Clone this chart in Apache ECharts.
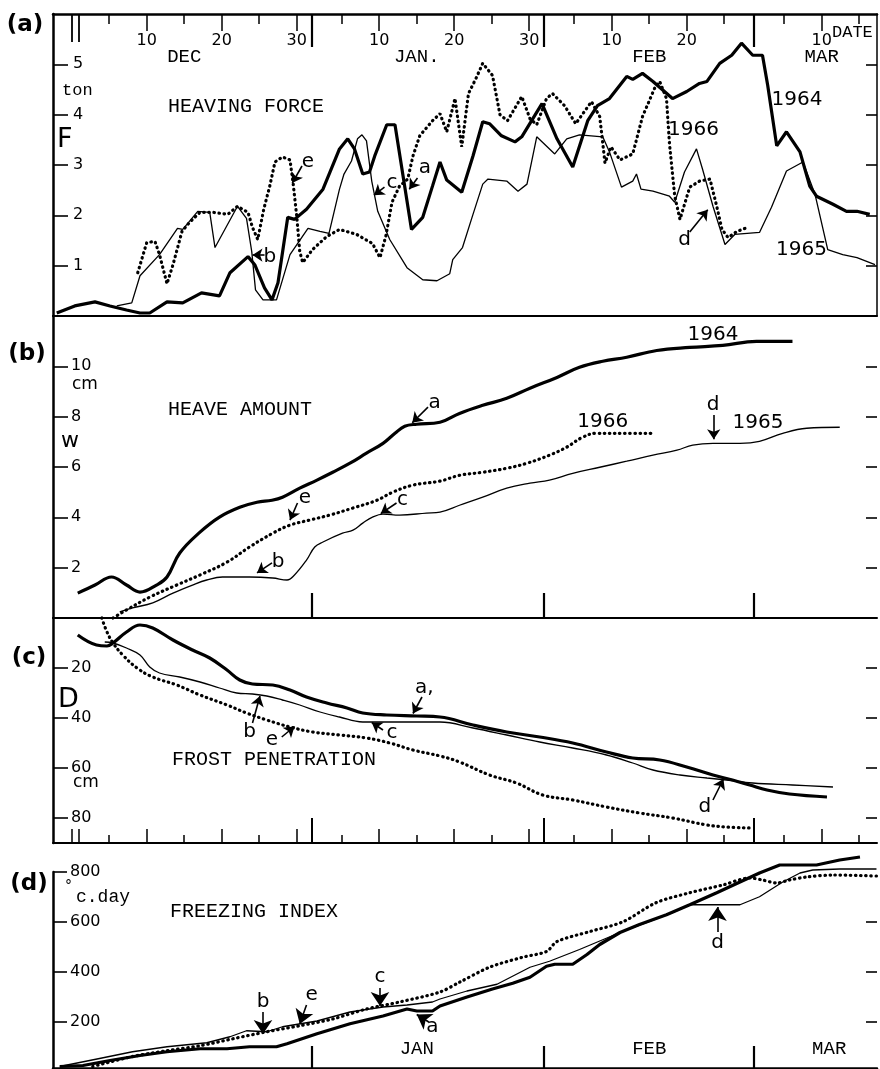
<!DOCTYPE html>
<html><head><meta charset="utf-8">
<script src="https://cdn.jsdelivr.net/npm/echarts@6/dist/echarts.min.js"></script>
<style>html,body{margin:0;padding:0;background:#fff}#c{width:880px;height:1069px}</style>
</head><body><div id="c"></div>
<script>
// ===== DATA (x = days from 1 Jan; Dec 1 = -31, Feb 1 = 31, Mar 1 = 59) =====
// (a) heaving force, ton
const force1964 = [[-34.0,0.06],[-31.6,0.2],[-28.9,0.28],[-26.9,0.2],[-24.7,0.12],[-22.9,0.06],[-21.6,0.06],[-19.3,0.28],[-17.2,0.26],[-14.7,0.46],[-12.3,0.4],[-10.9,0.86],[-8.5,1.18],[-7.6,1.02],[-6.3,0.56],[-5.3,0.32],[-4.5,0.66],[-3.2,1.96],[-2.3,1.92],[-0.7,2.12],[1.5,2.52],[3.7,3.32],[4.8,3.52],[5.7,3.32],[6.8,2.82],[7.7,2.86],[8.4,3.18],[10.0,3.8],[11.1,3.8],[13.3,1.72],[14.8,1.96],[16.1,2.58],[17.1,3.06],[18.0,2.7],[20.0,2.46],[21.5,3.18],[22.8,3.86],[23.7,3.82],[25.3,3.58],[27.1,3.46],[28.0,3.56],[30.7,4.22],[32.7,3.52],[34.8,2.96],[36.8,3.88],[38.1,4.18],[39.7,4.32],[42.0,4.76],[42.8,4.7],[44.1,4.82],[45.5,4.66],[48.1,4.32],[50.0,4.46],[51.7,4.62],[52.7,4.66],[54.4,5.02],[56.0,5.18],[57.3,5.42],[58.8,5.18],[60.1,5.18],[60.8,4.58],[62.0,3.38],[63.3,3.66],[65.1,3.26],[66.4,2.58],[67.3,2.38],[69.5,2.22],[71.3,2.08],[72.7,2.08],[74.4,2.02]];
const force1965 = [[-26.0,0.2],[-24.0,0.26],[-22.9,0.8],[-20.3,1.22],[-17.9,1.74],[-17.2,1.72],[-15.2,2.08],[-13.6,2.06],[-12.9,1.36],[-9.9,2.18],[-8.7,1.94],[-8.0,1.28],[-7.5,0.52],[-6.5,0.32],[-4.7,0.32],[-2.9,1.22],[-0.5,1.74],[1.1,1.68],[2.3,1.64],[3.7,2.52],[4.3,2.82],[5.3,3.08],[6.1,3.52],[6.7,3.6],[7.3,3.48],[8.0,2.68],[8.8,2.08],[10.4,1.52],[12.7,0.96],[14.8,0.72],[16.7,0.7],[18.4,0.84],[18.8,1.12],[20.1,1.36],[21.5,2.02],[22.8,2.62],[23.5,2.72],[26.0,2.68],[27.5,2.48],[28.7,2.62],[30.0,3.56],[32.4,3.22],[34.0,3.52],[35.7,3.6],[38.8,3.56],[39.7,3.26],[41.3,2.56],[42.8,2.68],[43.3,2.82],[43.9,2.52],[45.5,2.48],[47.7,2.38],[48.4,2.26],[49.7,2.86],[51.3,3.32],[52.1,2.92],[53.5,2.18],[55.1,1.42],[56.4,1.62],[59.7,1.66],[61.3,2.16],[63.3,2.88],[65.5,3.06],[67.1,2.42],[68.8,1.32],[70.8,1.22],[72.7,1.16],[75.1,1.02]];
const force1966 = [[-23.2,0.86],[-22.0,1.46],[-20.9,1.48],[-20.3,1.22],[-19.3,0.64],[-18.5,1.02],[-17.3,1.68],[-16.3,1.86],[-14.9,2.06],[-13.2,2.06],[-11.2,2.02],[-9.9,2.18],[-8.5,2.06],[-7.9,1.76],[-7.2,1.52],[-6.4,2.12],[-5.6,2.58],[-4.9,3.06],[-3.9,3.16],[-2.9,3.1],[-2.5,2.66],[-2.0,1.98],[-1.6,1.28],[-1.2,1.06],[0.1,1.32],[2.0,1.58],[3.7,1.72],[6.0,1.62],[8.1,1.44],[9.1,1.16],[9.9,1.6],[10.7,2.26],[11.7,2.58],[12.8,2.72],[13.5,3.18],[14.4,3.58],[16.1,3.88],[17.1,4.02],[18.0,3.66],[19.1,4.32],[20.0,3.36],[20.9,4.42],[21.9,4.72],[22.8,5.02],[24.1,4.78],[25.1,4.0],[26.1,3.88],[28.0,4.36],[29.1,3.92],[30.0,3.8],[31.3,4.32],[32.1,4.42],[33.7,4.18],[35.2,3.82],[37.3,4.26],[38.4,3.96],[39.1,3.04],[39.9,3.36],[41.1,3.1],[42.8,3.22],[44.1,3.96],[45.7,4.52],[46.4,4.66],[47.3,4.32],[47.7,3.42],[48.4,2.38],[49.1,1.92],[50.4,2.56],[51.7,2.68],[53.1,2.72],[54.0,2.18],[54.7,1.72],[55.5,1.56],[56.7,1.68],[58.1,1.76]];
// (b) heave amount, cm
const heave1964 = [[-31.2,0.99],[-28.9,1.31],[-26.7,1.63],[-24.7,1.31],[-22.9,1.03],[-20.7,1.31],[-19.3,1.63],[-17.6,2.58],[-14.9,3.41],[-12.3,4.01],[-9.6,4.40],[-7.3,4.60],[-5.3,4.68],[-3.9,4.80],[-1.6,5.16],[0.7,5.48],[2.8,5.79],[5.1,6.15],[7.3,6.55],[9.5,6.94],[11.1,7.34],[12.4,7.62],[14.0,7.70],[17.1,7.78],[19.7,8.13],[22.8,8.45],[26.0,8.73],[29.1,9.13],[32.7,9.56],[35.7,9.96],[38.8,10.20],[42.0,10.36],[46.0,10.63],[50.4,10.75],[54.8,10.83],[59.3,10.99],[64.1,10.99]];
const heave1965 = [[-25.6,0.24],[-23.9,0.40],[-21.2,0.60],[-18.5,0.99],[-15.9,1.31],[-14.0,1.51],[-11.9,1.63],[-8.3,1.63],[-5.2,1.59],[-3.3,1.51],[-2.3,1.71],[-0.7,2.30],[0.4,2.82],[1.5,3.02],[4.1,3.37],[5.5,3.49],[6.8,3.77],[8.1,4.01],[9.5,4.13],[11.7,4.09],[15.3,4.17],[17.1,4.21],[19.7,4.48],[22.8,4.80],[26.0,5.16],[29.1,5.36],[31.7,5.48],[34.8,5.75],[38.4,5.99],[42.0,6.23],[45.5,6.47],[48.7,6.67],[50.8,6.87],[53.5,6.94],[57.1,6.94],[59.7,7.02],[62.8,7.34],[66.0,7.54],[70.4,7.58]];
const heave1966 = [[-26.5,0],[-24.7,0.32],[-21.6,0.83],[-18.0,1.31],[-14.9,1.71],[-11.3,2.22],[-8.3,2.82],[-5.2,3.37],[-2.9,3.69],[-0.3,3.89],[2.4,4.09],[5.5,4.37],[8.7,4.68],[10.8,5.00],[13.5,5.28],[17.1,5.44],[19.7,5.67],[22.8,5.79],[26.0,5.95],[28.7,6.15],[31.7,6.47],[34.0,6.79],[36.1,7.18],[38.0,7.34],[41.5,7.34],[45.5,7.34]];
// (c) frost penetration, cm (depth)
const frost1964 = [[-31.2,6.8],[-28.7,10.8],[-27.3,11.2],[-26.5,10.0],[-24.7,5.6],[-22.9,2.8],[-21.2,4.0],[-18.5,8.8],[-15.9,12.8],[-13.6,16.0],[-11.3,20.8],[-9.6,24.8],[-7.9,26.4],[-5.2,26.8],[-2.9,28.8],[-0.7,31.6],[2.0,34.0],[4.7,36.0],[6.8,38.0],[10.0,38.8],[14.0,39.2],[17.1,39.6],[21.5,42.8],[26.0,45.6],[30.4,47.6],[34.8,50.0],[39.3,53.6],[42.8,56.0],[46.4,56.8],[50.0,59.6],[53.5,62.8],[56.1,64.8],[58.4,66.8],[60.7,68.8],[63.7,70.4],[68.7,71.6]];
const frost1965 = [[-27.6,9.6],[-26.5,10.0],[-24.7,12.0],[-22.9,14.8],[-21.6,19.6],[-20.3,22.0],[-17.6,23.6],[-14.9,25.6],[-12.3,28.0],[-10.0,30.0],[-7.9,30.4],[-6.0,31.2],[-3.9,32.8],[-1.6,34.8],[1.1,37.6],[3.7,39.6],[6.8,41.6],[11.7,41.6],[17.1,41.6],[21.5,44.0],[26.0,46.8],[30.4,49.6],[34.8,52.0],[39.3,54.8],[42.8,58.0],[45.5,60.8],[49.1,62.8],[52.7,64.0],[55.3,64.8],[58.8,66.0],[64.1,66.8],[69.5,67.6]];
const frost1966 = [[-28.0,0],[-27.3,5.6],[-26.5,10.0],[-25.2,14.8],[-23.3,20.0],[-21.2,23.6],[-18.0,26.8],[-14.9,30.8],[-11.3,34.8],[-8.7,38.0],[-6.0,40.8],[-2.9,43.6],[0.1,45.6],[3.7,46.8],[7.3,48.0],[10.4,50.0],[13.5,52.8],[17.1,55.2],[19.7,57.6],[23.7,62.8],[27.3,66.0],[30.8,70.8],[34.8,72.8],[39.3,75.6],[43.7,78.0],[48.1,80.0],[52.7,82.8],[55.3,83.6],[58.7,84.0]];
// (d) freezing index, °C·day
const index1964 = [[-33.6,22],[-30.5,26],[-26.9,46],[-22.9,66],[-19.3,81],[-14.9,93],[-11.3,93],[-8.3,101],[-4.7,101],[-3.3,113],[0.7,153],[5.1,193],[9.5,224],[12.7,252],[14.0,244],[16.1,244],[17.1,264],[20.7,300],[24.1,332],[26.8,355],[29.1,379],[31.3,423],[32.4,431],[34.8,431],[36.7,470],[38.4,510],[41.1,558],[43.7,590],[47.3,629],[50.4,669],[54.0,717],[57.1,760],[59.7,796],[62.4,828],[64.7,828],[67.3,828],[70.4,848],[73.1,860]];
const index1965 = [[-33.6,22],[-28.3,54],[-23.9,81],[-19.3,101],[-14.0,117],[-10.9,141],[-8.7,165],[-6.0,161],[-3.9,181],[0.7,204],[5.1,240],[9.5,260],[12.7,268],[16.1,280],[17.1,292],[20.7,324],[24.7,351],[29.1,419],[31.7,443],[35.7,490],[41.1,558],[44.7,598],[48.1,637],[50.4,669],[53.5,669],[57.1,669],[59.7,701],[62.8,760],[65.1,796],[66.8,808],[70.4,812],[75.3,812]];
const index1966 = [[-29.2,22],[-23.9,62],[-19.3,85],[-14.9,105],[-10.5,133],[-6.0,161],[-1.6,185],[2.8,212],[7.3,252],[11.7,280],[17.1,320],[19.7,359],[23.7,419],[28.1,459],[31.3,482],[32.7,522],[37.1,562],[41.5,601],[45.9,677],[50.4,717],[54.8,748],[58.4,776],[60.1,768],[62.0,756],[63.7,768],[66.0,780],[69.5,788],[75.3,784]];

// ===== TICKS / LABELS =====
const minorDays = [-27,-17,-7,4,14,24,35,45,55,63,73];
const tenDays = [-22,-12,-2,9,19,29,40,50,68];
const tenDayLabels = ['10','20','30','10','20','30','10','20','10'];
const monthStartDays = [0,31,59];
const novDecDays = [-32,-31];
const monthMidTop = [-17,14,45,68];
const monthNamesTop = ['DEC','JAN.','FEB','MAR'];
const monthMidD = [14,45,69];
const monthNamesD = ['JAN','FEB','MAR'];
const forceTicks = [1,2,3,4,5];
const heaveTicks = [2,4,6,8,10];
const depthTicks = [20,40,60,80];
const indexTicks = [200,400,600,800];
const indexTicksRight = [200,400,600];

// ===== ANNOTATIONS ([text, x, y] and arrows [x1,y1,x2,y2]) =====
const notesA = [['e',-0.5,3.06],['b',-5.6,1.17],['c',10.7,2.64],['a',15.1,2.94],['d',49.7,1.51],['1964',64.7,4.29],['1966',50.9,3.70],['1965',65.3,1.31]];
const arrowsA = [[-1.3,2.98,-2.6,2.64],[-6.3,1.21,-7.9,1.21],[9.7,2.56,8.3,2.4],[14.1,2.74,13.0,2.52],[50.4,1.67,52.8,2.11]];
const notesB = [['a',16.4,8.54],['e',-0.9,4.77],['c',12.1,4.69],['b',-4.5,2.22],['1964',53.5,11.24],['1966',38.8,7.79],['d',53.5,8.46],['1965',59.5,7.75]];
const arrowsB = [[15.5,8.38,13.4,7.76],[-1.9,4.57,-2.9,3.89],[11.3,4.57,9.2,4.15],[-5.3,2.19,-7.3,1.79],[53.6,8.07,53.6,7.1]];
const notesC = [['a,',15.0,28],['b',-8.3,45.6],['e',-5.3,48.8],['c',10.7,46],['d',52.4,75.6]];
const arrowsC = [[14.7,31.6,13.5,38.2],[-7.9,42,-6.9,31.2],[-4.0,47.6,-2.3,43.4],[9.5,44.8,8.0,41.8],[53.5,72.8,54.9,64.4]];
const notesD = [['b',-6.5,280],['e',0,308],['c',9.1,380],['a',16.1,180],['d',54.1,516]];
const arrowsD = [[-6.5,240,-6.5,152],[-0.7,268,-1.6,192],[9.1,336,9.1,264],[15.6,200,14.0,230],[54.1,560,54.1,660]];

// ===== CHART =====
const SANS = '"DejaVu Sans", sans-serif';
const MONO = '"Liberation Mono", "DejaVu Sans Mono", monospace';
const xMin = -34.5, xMax = 75.37;
const grids = [
  {left:53, width:824, top:14, height:302},
  {left:53, width:824, top:316, height:302},
  {left:53, width:824, top:618, height:225},
  {left:53, width:824, top:872, height:196}
];
function lookup(vals, labels){ return v => { for (let i=0;i<vals.length;i++) if (Math.abs(vals[i]-v)<1e-6) return labels[i]; return ''; }; }
function xAx(g, position, o){
  return {
    type:'value', gridIndex:g, position, min:xMin, max:xMax,
    axisLine:{show:!!o.line, onZero:false, lineStyle:{color:'#000', width:o.line||1}},
    axisTick:{show:!!o.ticks, inside:true, length:o.tickLen||8, customValues:o.ticks, lineStyle:{color:'#000', width:o.tickW||1.5}},
    axisLabel:{show:!!o.labelVals, inside:true, customValues:o.labelVals, margin:o.margin||8,
      formatter:o.labelVals?lookup(o.labelVals,o.labelTexts):undefined, color:'#000',
      fontFamily:o.font||SANS, fontSize:o.fontSize||16},
    splitLine:{show:false}
  };
}
function yAx(g, position, o){
  return {
    type:'value', gridIndex:g, position, min:o.min, max:o.max, inverse:!!o.inverse,
    axisLine:{show:!!o.line, onZero:false, lineStyle:{color:'#000', width:o.line||1}},
    axisTick:{show:true, inside:true, length:o.tickLen||10, customValues:o.ticks, lineStyle:{color:'#000', width:1.6}},
    axisLabel:{show:!!o.labels, inside:true, margin:o.margin||18, customValues:o.ticks, color:'#000', fontFamily:SANS, fontSize:16},
    splitLine:{show:false}
  };
}
const xAxes = [
  xAx(0,'top',{line:2.5, ticks:minorDays, tickLen:10}),
  xAx(0,'top',{ticks:tenDays, tickLen:17, labelVals:tenDays, labelTexts:tenDayLabels, margin:19, fontSize:16}),
  xAx(0,'top',{ticks:monthStartDays, tickLen:33, tickW:2.2}),
  xAx(0,'top',{ticks:novDecDays, tickLen:28, tickW:1.8}),
  xAx(0,'top',{labelVals:monthMidTop, labelTexts:monthNamesTop, margin:33, font:MONO, fontSize:19}),
  xAx(0,'bottom',{line:2}),
  xAx(1,'bottom',{line:2, ticks:monthStartDays, tickLen:25, tickW:2.2}),
  xAx(2,'bottom',{line:2, ticks:minorDays, tickLen:8}),
  xAx(2,'bottom',{ticks:tenDays.concat(novDecDays), tickLen:14}),
  xAx(2,'bottom',{ticks:monthStartDays, tickLen:25, tickW:2}),
  xAx(3,'bottom',{line:2.5, ticks:monthStartDays, tickLen:22, tickW:2.2}),
  xAx(3,'bottom',{labelVals:monthMidD, labelTexts:monthNamesD, margin:10, font:MONO, fontSize:19})
];
const yAxes = [
  yAx(0,'left',{min:0,max:6,line:2.5,ticks:forceTicks,tickLen:15,labels:true,margin:20}),
  yAx(0,'right',{min:0,max:6,line:1.5,ticks:forceTicks,tickLen:11}),
  yAx(1,'left',{min:0,max:12,line:2.5,ticks:heaveTicks,tickLen:15,labels:true,margin:18}),
  yAx(1,'right',{min:0,max:12,ticks:heaveTicks,tickLen:11}),
  yAx(2,'left',{min:0,max:90,inverse:true,line:2.5,ticks:depthTicks,tickLen:15,labels:true,margin:18}),
  yAx(2,'right',{min:0,max:90,inverse:true,ticks:depthTicks,tickLen:11}),
  yAx(3,'left',{min:16,max:800,line:2.5,ticks:indexTicks,tickLen:14,labels:true,margin:17}),
  yAx(3,'right',{min:16,max:800,ticks:indexTicksRight,tickLen:11})
];
const XI = [0,6,7,10], YI = [0,2,4,6];
const styles = {
  y1964:{color:'#000', width:3.2},
  y1965:{color:'#000', width:1.3},
  y1966:{color:'#000', width:3.2, type:[0.5,4.6], cap:'round'}
};
function ln(g, data, st, smooth){
  return {type:'line', xAxisIndex:XI[g], yAxisIndex:YI[g], data, symbol:'none', smooth:smooth||false,
    clip:false, lineStyle:styles[st], silent:true, z: st==='y1964'?4:3};
}
function notes(g, list, arrows, head){
  return {type:'scatter', xAxisIndex:XI[g], yAxisIndex:YI[g], symbolSize:1, silent:true, z:6,
    itemStyle:{color:'rgba(0,0,0,0)', opacity:1},
    label:{show:true, position:'inside', formatter:'{b}', color:'#000', opacity:1, fontFamily:SANS, fontSize:20},
    data:list.map(n=>({name:n[0], value:[n[1],n[2]]})),
    markLine:{silent:true, symbol:['none','arrow'], symbolSize:head||10, animation:false,
      itemStyle:{color:'#000', opacity:1},
      lineStyle:{color:'#000', width:1.6, type:'solid', opacity:1}, label:{show:false},
      data:arrows.map(a=>[{coord:[a[0],a[1]]},{coord:[a[2],a[3]]}])}
  };
}
const series = [
  ln(0,force1965,'y1965'), ln(0,force1966,'y1966'), ln(0,force1964,'y1964'),
  ln(1,heave1965,'y1965',0.4), ln(1,heave1966,'y1966',0.4), ln(1,heave1964,'y1964',0.4),
  ln(2,frost1965,'y1965',0.4), ln(2,frost1966,'y1966',0.4), ln(2,frost1964,'y1964',0.4),
  ln(3,index1965,'y1965'), ln(3,index1966,'y1966',0.3), ln(3,index1964,'y1964'),
  notes(0,notesA,arrowsA), notes(1,notesB,arrowsB), notes(2,notesC,arrowsC), notes(3,notesD,arrowsD,14)
];
function txt(x,y,text,font,size,align,weight){
  return {type:'text', x, y, silent:true, z:10, style:{text, fill:'#000', fontFamily:font, fontSize:size,
    fontWeight:weight||'normal', align:align||'left', verticalAlign:'middle'}};
}
const graphic = [
  txt(25,25,'(a)',SANS,23,'center','bold'),
  txt(27,354,'(b)',SANS,23,'center','bold'),
  txt(29,658,'(c)',SANS,23,'center','bold'),
  txt(29,884,'(d)',SANS,23,'center','bold'),
  txt(62,90,'ton',MONO,17),
  txt(57,140,'F',SANS,27),
  txt(168,107,'HEAVING FORCE',MONO,20),
  txt(832,32,'DATE',MONO,17),
  txt(72,385,'cm',SANS,17),
  txt(61,441,'w',SANS,22),
  txt(168,410,'HEAVE AMOUNT',MONO,20),
  txt(58,700,'D',SANS,27),
  txt(73,783,'cm',SANS,17),
  txt(172,760,'FROST PENETRATION',MONO,20),
  txt(65,886,'°',SANS,14),
  txt(76,897,'c.day',MONO,18),
  txt(170,912,'FREEZING INDEX',MONO,20)
];
const chart = echarts.init(document.getElementById('c'), null, {renderer:'canvas'});
chart.setOption({
  animation:false, backgroundColor:'#fff',
  grid:grids, xAxis:xAxes, yAxis:yAxes, series, graphic
});
</script></body></html>
